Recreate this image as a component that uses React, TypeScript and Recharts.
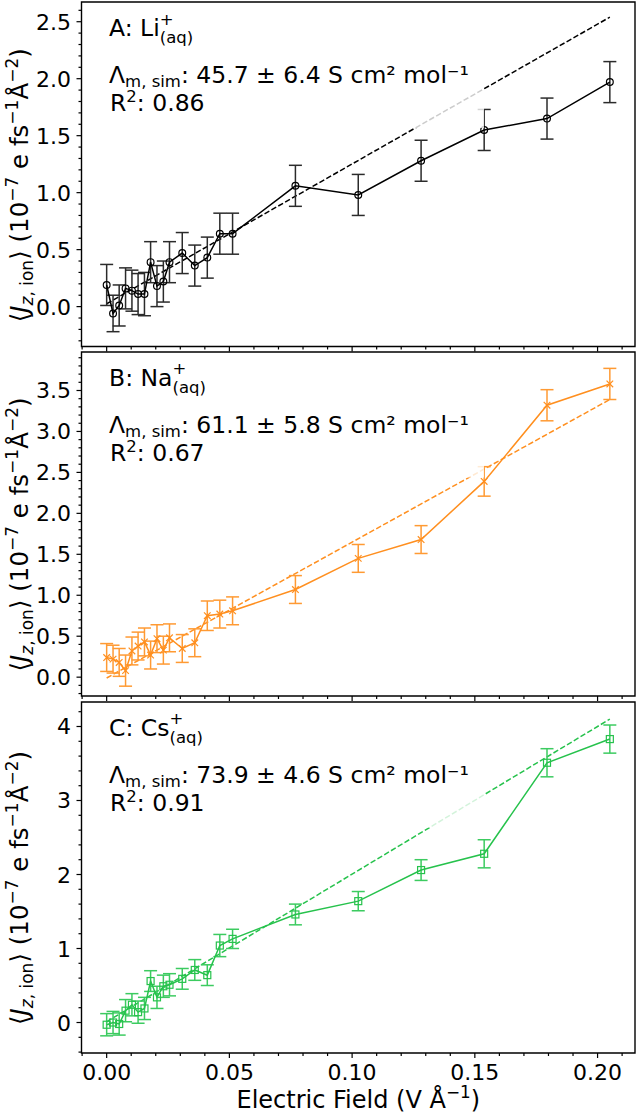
import React from 'react'
import { ComposedChart, Line, XAxis, YAxis, ErrorBar, ReferenceArea } from 'recharts'

const FONT = '"DejaVu Sans", Verdana, sans-serif'

// applied field in V/Å, same grid for every ion
const field = [
  0, 0.0026, 0.0051, 0.0077, 0.0103, 0.0128, 0.0154, 0.0179, 0.0205, 0.0231, 0.0256,
  0.0308, 0.0359, 0.041, 0.0461, 0.0513, 0.0769, 0.1025, 0.1281, 0.1538, 0.1794, 0.205,
]

// mean ionic current density (1e-7 e fs^-1 Å^-2) and its error
const liCurrent = [0.19, -0.06, 0.01, 0.16, 0.14, 0.11, 0.11, 0.39, 0.18, 0.22, 0.39, 0.47, 0.36, 0.43, 0.64, 0.64, 1.06, 0.98, 1.28, 1.55, 1.65, 1.97]
const liError = [0.18, 0.16, 0.18, 0.18, 0.18, 0.18, 0.19, 0.18, 0.18, 0.18, 0.18, 0.18, 0.18, 0.18, 0.18, 0.18, 0.18, 0.18, 0.18, 0.18, 0.18, 0.18]
const naCurrent = [0.24, 0.22, 0.18, 0.08, 0.32, 0.38, 0.43, 0.27, 0.47, 0.33, 0.48, 0.35, 0.42, 0.75, 0.77, 0.81, 1.07, 1.45, 1.68, 2.39, 3.32, 3.58]
const naError = [0.17, 0.17, 0.17, 0.19, 0.17, 0.17, 0.17, 0.17, 0.17, 0.17, 0.17, 0.17, 0.17, 0.18, 0.17, 0.17, 0.17, 0.17, 0.17, 0.18, 0.19, 0.19]
const csCurrent = [-0.03, 0.0, -0.02, 0.16, 0.24, 0.14, 0.19, 0.56, 0.34, 0.49, 0.51, 0.59, 0.71, 0.64, 1.04, 1.13, 1.46, 1.64, 2.06, 2.28, 3.51, 3.83]
const csError = [0.15, 0.15, 0.15, 0.15, 0.15, 0.15, 0.15, 0.14, 0.15, 0.15, 0.15, 0.14, 0.14, 0.14, 0.15, 0.13, 0.14, 0.13, 0.14, 0.19, 0.19, 0.19]

// linear fits, evaluated at the ends of the field range
const fitField = [0, 0.205]
const liFit = [0.025, 2.54]
const naFit = [-0.01, 3.39]
const csFit = [0.01, 4.1]

const xMajorTicks = [0, 0.05, 0.1, 0.15, 0.2]
const liMajorTicks = [0, 0.5, 1, 1.5, 2, 2.5]
const naMajorTicks = [0, 0.5, 1, 1.5, 2, 2.5, 3, 3.5]
const csMajorTicks = [0, 1, 2, 3, 4]

const X_DOMAIN: [number, number] = [-0.01025, 0.21525]
const PLOT_LEFT = 81.5
const PLOT_RIGHT = 635
const MARGIN_TOP = 2

type Marker = 'circle' | 'cross' | 'square'

const panels = [
  {
    tag: 'A', ion: 'Li', lambda: '45.7 ± 6.4', r2: '0.86',
    current: liCurrent, error: liError, fit: liFit,
    color: '#000000', errColor: '#2b2b2b', marker: 'circle' as Marker,
    yDomain: [-0.35, 2.673] as [number, number], majors: liMajorTicks, minorStep: 0.1, digits: 1,
    top: 2, plotHeight: 344.5, axisHeight: 6, xLabels: false,
  },
  {
    tag: 'B', ion: 'Na', lambda: '61.1 ± 5.8', r2: '0.67',
    current: naCurrent, error: naError, fit: naFit,
    color: '#ff8f1f', errColor: '#ff9a33', marker: 'cross' as Marker,
    yDomain: [-0.23, 3.97] as [number, number], majors: naMajorTicks, minorStep: 0.1, digits: 1,
    top: 351.5, plotHeight: 344, axisHeight: 6, xLabels: false,
  },
  {
    tag: 'C', ion: 'Cs', lambda: '73.9 ± 4.6', r2: '0.91',
    current: csCurrent, error: csError, fit: csFit,
    color: '#26c24c', errColor: '#3ccb60', marker: 'square' as Marker,
    yDomain: [-0.412, 4.331] as [number, number], majors: csMajorTicks, minorStep: 0.2, digits: 0,
    top: 701.5, plotHeight: 351, axisHeight: 60, xLabels: true,
  },
]

function stepTicks(lo: number, hi: number, step: number) {
  const out: number[] = []
  for (let i = Math.ceil(lo / step - 1e-9); i * step <= hi + 1e-9; i++) {
    out.push(Math.round(i * step * 1e6) / 1e6)
  }
  return out
}

const isMajor = (v: number, majors: number[]) => majors.some((m) => Math.abs(m - v) < 1e-6)

const xTicks = stepTicks(X_DOMAIN[0], X_DOMAIN[1], 0.01)

function XTick(props: any) {
  const { x, y, payload, showLabel } = props
  const major = isMajor(payload.value, xMajorTicks)
  return (
    <g>
      <line x1={x} x2={x} y1={y} y2={y + (major ? 5 : 3)} stroke="#000" strokeWidth={1.2} />
      {major && showLabel && (
        <text x={x} y={y + 27} textAnchor="middle" fontSize={22} fontFamily={FONT} fill="#000">
          {payload.value.toFixed(2)}
        </text>
      )}
    </g>
  )
}

function YTick(props: any) {
  const { x, y, payload, majors, digits } = props
  const major = isMajor(payload.value, majors)
  return (
    <g>
      <line x1={x} x2={x - (major ? 5 : 3)} y1={y} y2={y} stroke="#000" strokeWidth={1.2} />
      {major && (
        <text x={x - 10.5} y={y + 8} textAnchor="end" fontSize={22} fontFamily={FONT} fill="#000">
          {payload.value.toFixed(digits)}
        </text>
      )}
    </g>
  )
}

function makeDot(marker: Marker, color: string) {
  return (p: any) => {
    const { cx, cy, index } = p
    if (marker === 'circle') {
      return <circle key={`d${index}`} cx={cx} cy={cy} r={3.4} fill="none" stroke={color} strokeWidth={1.2} />
    }
    if (marker === 'square') {
      return <rect key={`d${index}`} x={cx - 3.5} y={cy - 3.5} width={7} height={7} fill="none" stroke={color} strokeWidth={1.2} />
    }
    return (
      <g key={`d${index}`}>
        <line x1={cx - 3.3} y1={cy - 3.3} x2={cx + 3.3} y2={cy + 3.3} stroke={color} strokeWidth={1.2} />
        <line x1={cx - 3.3} y1={cy + 3.3} x2={cx + 3.3} y2={cy - 3.3} stroke={color} strokeWidth={1.2} />
      </g>
    )
  }
}

function Panel({ p }: { p: (typeof panels)[number] }) {
  const points = field.map((x, i) => ({ x, y: p.current[i], err: p.error[i] }))
  const fitLine = fitField.map((x, i) => ({ x, y: p.fit[i] }))
  const yTicks = stepTicks(p.yDomain[0], p.yDomain[1], p.minorStep)
  const height = MARGIN_TOP + p.plotHeight + p.axisHeight

  return (
    <div style={{ position: 'absolute', left: 0, top: p.top - MARGIN_TOP, width: 637, height }}>
      <ComposedChart width={637} height={height} margin={{ top: MARGIN_TOP, right: 637 - PLOT_RIGHT, bottom: 0, left: 0 }}>
        <XAxis
          type="number"
          dataKey="x"
          domain={X_DOMAIN}
          allowDataOverflow
          ticks={xTicks}
          interval={0}
          tickSize={0}
          tickMargin={0}
          axisLine={false}
          tickLine={false}
          height={p.axisHeight}
          tick={(t: any) => <XTick {...t} showLabel={p.xLabels} />}
        />
        <YAxis
          type="number"
          domain={p.yDomain}
          allowDataOverflow
          ticks={yTicks}
          interval={0}
          tickSize={0}
          tickMargin={0}
          axisLine={false}
          tickLine={false}
          width={PLOT_LEFT}
          tick={(t: any) => <YTick {...t} majors={p.majors} digits={p.digits} />}
        />
        <Line
          data={fitLine}
          dataKey="y"
          stroke={p.color}
          strokeWidth={1.5}
          strokeDasharray="5.5 2.4"
          dot={false}
          activeDot={false}
          isAnimationActive={false}
        />
        <Line
          data={points}
          dataKey="y"
          stroke={p.color}
          strokeWidth={1.5}
          dot={makeDot(p.marker, p.color)}
          activeDot={false}
          isAnimationActive={false}
        >
          <ErrorBar dataKey="err" direction="y" width={6.5} strokeWidth={1.5} stroke={p.errColor} />
        </Line>
        <ReferenceArea
          x1={X_DOMAIN[0]}
          x2={X_DOMAIN[1]}
          y1={p.yDomain[0]}
          y2={p.yDomain[1]}
          fill="none"
          stroke="#000"
          strokeWidth={1.4}
          ifOverflow="visible"
        />
      </ComposedChart>
    </div>
  )
}

function Annotation({ p }: { p: (typeof panels)[number] }) {
  const t = p.top
  const size = 23.5
  const sub = 16.5
  return (
    <g fontFamily={FONT} fill="#000">
      <rect x={96} y={t + 4} width={388} height={122} fill="#fff" fillOpacity={0.8} />
      <text x={109} y={t + 34} fontSize={size}>
        <tspan>{p.tag}: {p.ion}</tspan>
        <tspan fontSize={sub} dy={-11.5}>+</tspan>
        <tspan fontSize={sub} dx={-13.8} dy={18.5}>(aq)</tspan>
      </text>
      <text x={109} y={t + 81} fontSize={size}>
        <tspan>Λ</tspan>
        <tspan fontSize={sub} dy={4}>m, sim</tspan>
        <tspan dy={-4}>: {p.lambda} S cm² mol⁻¹</tspan>
      </text>
      <text x={110} y={t + 109} fontSize={size}>
        <tspan>R</tspan>
        <tspan fontSize={sub} dy={-9}>2</tspan>
        <tspan dy={9}>: {p.r2}</tspan>
      </text>
    </g>
  )
}

function CurrentLabel({ cy }: { cy: number }) {
  const size = 24.5
  const sub = 17
  const bx = 27.5
  return (
    <text x={bx} y={cy} transform={`rotate(-90 ${bx} ${cy})`} textAnchor="middle" fontSize={size} fontFamily={FONT} fill="#000">
      <tspan>⟨</tspan>
      <tspan fontStyle="italic">J</tspan>
      <tspan fontSize={sub} dy={5.5} fontStyle="italic">z</tspan>
      <tspan fontSize={sub}>, ion</tspan>
      <tspan dy={-5.5}>⟩ (10</tspan>
      <tspan fontSize={sub} dy={-10}>−7</tspan>
      <tspan dy={10}> e fs</tspan>
      <tspan fontSize={sub} dy={-10}>−1</tspan>
      <tspan dy={10}>Å</tspan>
      <tspan fontSize={sub} dy={-10}>−2</tspan>
      <tspan dy={10}>)</tspan>
    </text>
  )
}

export default function App() {
  return (
    <div style={{ position: 'absolute', left: 0, top: 0, width: 637, height: 1115, background: '#fff' }}>
      {panels.map((p) => (
        <Panel key={p.tag} p={p} />
      ))}
      <svg width={637} height={1115} style={{ position: 'absolute', left: 0, top: 0, pointerEvents: 'none' }}>
        {panels.map((p) => (
          <g key={p.tag}>
            <Annotation p={p} />
            <CurrentLabel cy={p.top + p.plotHeight / 2 + 11} />
          </g>
        ))}
        <text x={(PLOT_LEFT + PLOT_RIGHT) / 2} y={1108} textAnchor="middle" fontSize={24} fontFamily={FONT} fill="#000">
          <tspan>Electric Field (V Å</tspan>
          <tspan fontSize={16.8} dy={-10}>−1</tspan>
          <tspan dy={10}>)</tspan>
        </text>
      </svg>
    </div>
  )
}
